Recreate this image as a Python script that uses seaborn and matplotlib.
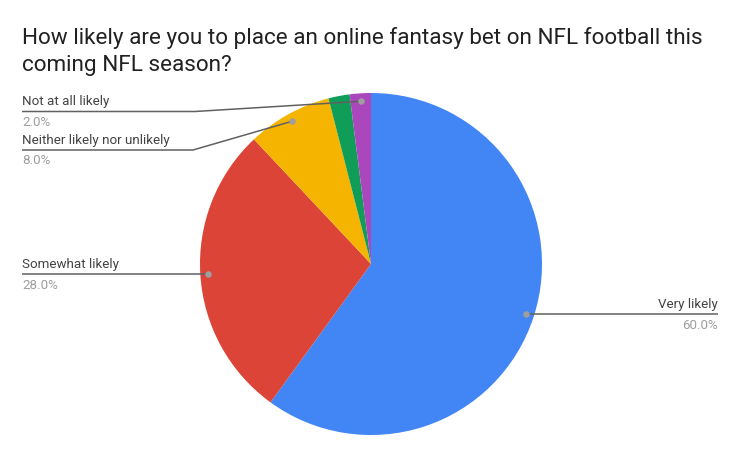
import numpy as np
import matplotlib
matplotlib.use("Agg")
import matplotlib.pyplot as plt
import seaborn as sns

title_lines = ["How likely are you to place an online fantasy bet on NFL football this",
               "coming NFL season?"]
categories = ["Very likely", "Somewhat likely", "Neither likely nor unlikely",
              "Not very likely", "Not at all likely"]
values = [60.0, 28.0, 8.0, 2.0, 2.0]
colors = ["#4285F4", "#DB4437", "#F4B400", "#0F9D58", "#AB47BC"]
show_label = [True, True, True, False, True]

sns.set_theme(style="white")
plt.rcParams['font.family'] = ['Roboto', 'DejaVu Sans']

W, H = 742, 459
fig = plt.figure(figsize=(W / 100, H / 100), dpi=100)
ax = fig.add_axes([0, 0, 1, 1])
cx, cy, R = 371, H - 264, 171
wedges, _ = ax.pie(values, colors=colors, startangle=90, counterclock=False,
                   center=(cx, cy), radius=R, wedgeprops=dict(linewidth=0))
ax.set_xlim(0, W)
ax.set_ylim(0, H)
ax.set_aspect('equal')
ax.axis('off')

for i, line in enumerate(title_lines):
    fig.text(22 / W, 1 - (38 + 27 * i) / H, line, ha='left', va='center',
             fontsize=16.2, color='#212121')

# layout for labels: (side, line y from top or None to use dot y, knee x)
layout = {
    "Very likely": ("right", None, None),
    "Somewhat likely": ("left", None, None),
    "Neither likely nor unlikely": ("left", 150, 193),
    "Not at all likely": ("left", 111.5, 195),
}
total = sum(values)
for w, cat, val, show in zip(wedges, categories, values, show_label):
    if not show:
        continue
    mid = np.deg2rad((w.theta1 + w.theta2) / 2)
    r = R * 163 / 171
    dx, dy = cx + r * np.cos(mid), cy + r * np.sin(mid)
    side, ly, knee = layout[cat]
    ly = dy if ly is None else H - ly
    if side == "left":
        xt = 22
        pts_x = [xt, knee if knee else dx, dx]
        pts_y = [ly, ly, dy]
        ha = 'left'
    else:
        xt = 718
        pts_x = [dx, xt]
        pts_y = [dy, ly]
        ha = 'right'
    ax.plot(pts_x, pts_y, color='#616161', lw=1.1, solid_capstyle='butt', zorder=3)
    ax.scatter([dx], [dy], s=22, color='#9E9E9E', zorder=4, linewidths=0)
    ax.text(xt, ly + 9.5, cat, ha=ha, va='center', fontsize=9.6, color='#424242')
    ax.text(xt, ly - 11, f"{val / total * 100:.1f}%", ha=ha, va='center',
            fontsize=9.6, color='#9E9E9E')

fig.savefig("out.png", dpi=100, facecolor='white')
